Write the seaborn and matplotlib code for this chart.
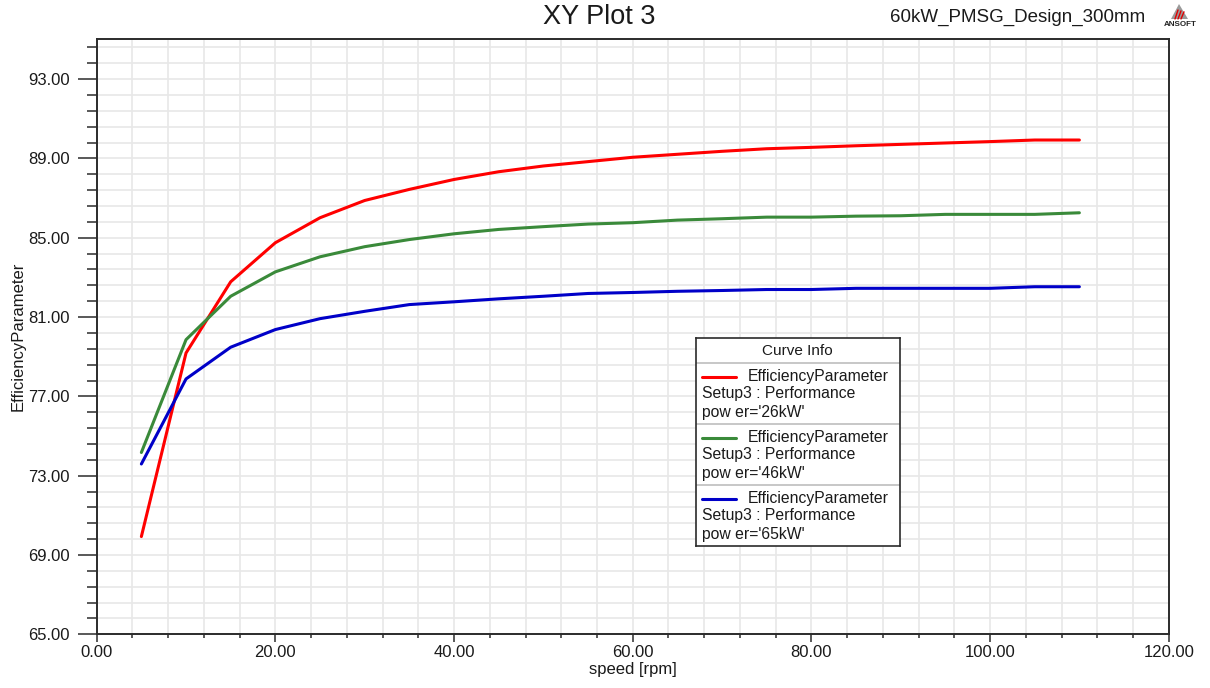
import numpy as np
import pandas as pd
import matplotlib
matplotlib.use("Agg")
import matplotlib.pyplot as plt
import seaborn as sns
from matplotlib.ticker import MultipleLocator, FixedLocator, FormatStrFormatter
from matplotlib.patches import Polygon

# ---------------- data ----------------
speed = [5, 10, 15, 20, 25, 30, 35, 40, 45, 50, 55, 60, 65, 70, 75, 80, 85, 90, 95, 100, 105, 110]
eff_26kW = [69.93, 79.19, 82.78, 84.75, 86.01, 86.88, 87.44, 87.94, 88.33, 88.62, 88.84, 89.06,
            89.21, 89.36, 89.49, 89.56, 89.64, 89.71, 89.78, 89.85, 89.93, 89.93]
eff_46kW = [74.17, 79.86, 82.05, 83.28, 84.04, 84.55, 84.91, 85.20, 85.42, 85.56, 85.69, 85.76,
            85.89, 85.96, 86.04, 86.04, 86.09, 86.11, 86.18, 86.18, 86.18, 86.26]
eff_65kW = [73.59, 77.88, 79.48, 80.37, 80.92, 81.29, 81.63, 81.77, 81.92, 82.05, 82.19, 82.24,
            82.30, 82.34, 82.39, 82.39, 82.45, 82.45, 82.45, 82.45, 82.53, 82.53]
power_labels = ["26kW", "46kW", "65kW"]
line_colors = ["#ff0000", "#3a8a3a", "#0000c8"]
x_label = "speed [rpm]"
y_label = "EfficiencyParameter"
title = "XY Plot 3"
design_name = "60kW_PMSG_Design_300mm"

# ---------------- style ----------------
sns.set_theme(style="white")
plt.rcParams['font.family'] = ['Liberation Sans', 'DejaVu Sans']

W, H = 1210, 688
fig = plt.figure(figsize=(W / 100, H / 100), dpi=100)
fig.patch.set_facecolor("white")

def fx(px):
    return px / W

def fy(py):
    return 1 - py / H

left, right, top, bottom = 96.7, 1168.7, 38.7, 634.3
ax = fig.add_axes([fx(left), fy(bottom), fx(right - left), (bottom - top) / H])

df = pd.concat([
    pd.DataFrame({"speed": speed, "eff": vals, "power": lab})
    for vals, lab in zip([eff_26kW, eff_46kW, eff_65kW], power_labels)
])
sns.lineplot(data=df, x="speed", y="eff", hue="power", hue_order=power_labels,
             palette=dict(zip(power_labels, line_colors)), linewidth=2.2,
             legend=False, ax=ax, zorder=3)

ax.set_xlim(0, 120)
ax.set_ylim(65, 95.04)
ax.xaxis.set_major_locator(MultipleLocator(20))
ax.xaxis.set_minor_locator(MultipleLocator(4))
ax.yaxis.set_major_locator(FixedLocator(np.arange(65, 95, 4)))
ax.yaxis.set_minor_locator(FixedLocator(np.arange(65, 95.05, 0.8)))
ax.xaxis.set_major_formatter(FormatStrFormatter("%.2f"))
ax.yaxis.set_major_formatter(FormatStrFormatter("%.2f"))

ax.grid(which="both", color="#e8e8e8", linewidth=1.2, zorder=0)
ax.set_axisbelow(True)
for sp in ax.spines.values():
    sp.set_color("#2b2b2b")
    sp.set_linewidth(1.4)
    sp.set_visible(True)

ax.tick_params(axis="y", which="major", direction="out", length=13.5, width=1.1,
               color="#2b2b2b", labelsize=12, pad=6, labelcolor="#1a1a1a", left=True)
ax.tick_params(axis="y", which="minor", direction="out", length=7, width=1.1,
               color="#2b2b2b", left=True)
ax.tick_params(axis="x", which="major", direction="out", length=6, width=1.1,
               color="#2b2b2b", labelsize=12, pad=2, labelcolor="#1a1a1a", bottom=True)
ax.tick_params(axis="x", which="minor", direction="out", length=3, width=1.1,
               color="#2b2b2b", bottom=True)

ax.set_xlabel(x_label, fontsize=12, labelpad=1, color="#1a1a1a")
ax.set_ylabel(y_label, fontsize=12, labelpad=2, color="#1a1a1a")

# titles
fig.text(fx(599), fy(17), title, ha="center", va="center", fontsize=19.5, color="#1a1a1a")
fig.text(fx(1145), fy(17), design_name, ha="right", va="center", fontsize=13.5, color="#1a1a1a")

# ANSOFT logo
tri = Polygon([[fx(1171), fy(19)], [fx(1179), fy(4)], [fx(1188), fy(19)]],
              closed=True, transform=fig.transFigure, facecolor="#9a9a9a", edgecolor="none")
fig.patches.append(tri)
for dx in (0, 3, 6):
    fig.lines.append(matplotlib.lines.Line2D([fx(1175 + dx), fx(1178 + dx)], [fy(19), fy(10 + dx * 0.3)],
                                             transform=fig.transFigure, color="#e00000", linewidth=1.0))
fig.text(fx(1180.5), fy(24.5), "ANSOFT", ha="center", va="center", fontsize=5.8,
         fontweight="bold", color="#222222")

# Curve Info legend box
lx0, ly0, lw, lh = 696, 338, 204, 208
lax = fig.add_axes([fx(lx0), fy(ly0 + lh), lw / W, lh / H], zorder=5)
lax.set_xlim(0, lw)
lax.set_ylim(lh, 0)
lax.set_xticks([])
lax.set_yticks([])
lax.set_facecolor("white")
for sp in lax.spines.values():
    sp.set_color("#2b2b2b")
    sp.set_linewidth(1.2)
lax.text(lw / 2 - 1, 13, "Curve Info", ha="center", va="center", fontsize=11, color="#1a1a1a")
lax.axhline(25.3, color="#bdbdbd", linewidth=1.2)
block = 61
for i, (lab, col) in enumerate(zip(power_labels, line_colors)):
    y0 = 25.3 + i * block
    if i > 0:
        lax.axhline(y0, color="#bdbdbd", linewidth=1.2)
    lax.plot([6, 40], [y0 + 13.4, y0 + 13.4], color=col, linewidth=2.2)
    lax.text(52, y0 + 13.4, y_label, ha="left", va="center", fontsize=11.3, color="#1a1a1a")
    lax.text(6, y0 + 30.5, "Setup3 : Performance", ha="left", va="center", fontsize=11.3, color="#1a1a1a")
    lax.text(6, y0 + 49, "pow er='%s'" % lab, ha="left", va="center", fontsize=11.3, color="#1a1a1a")

fig.savefig("out.png", dpi=100)
